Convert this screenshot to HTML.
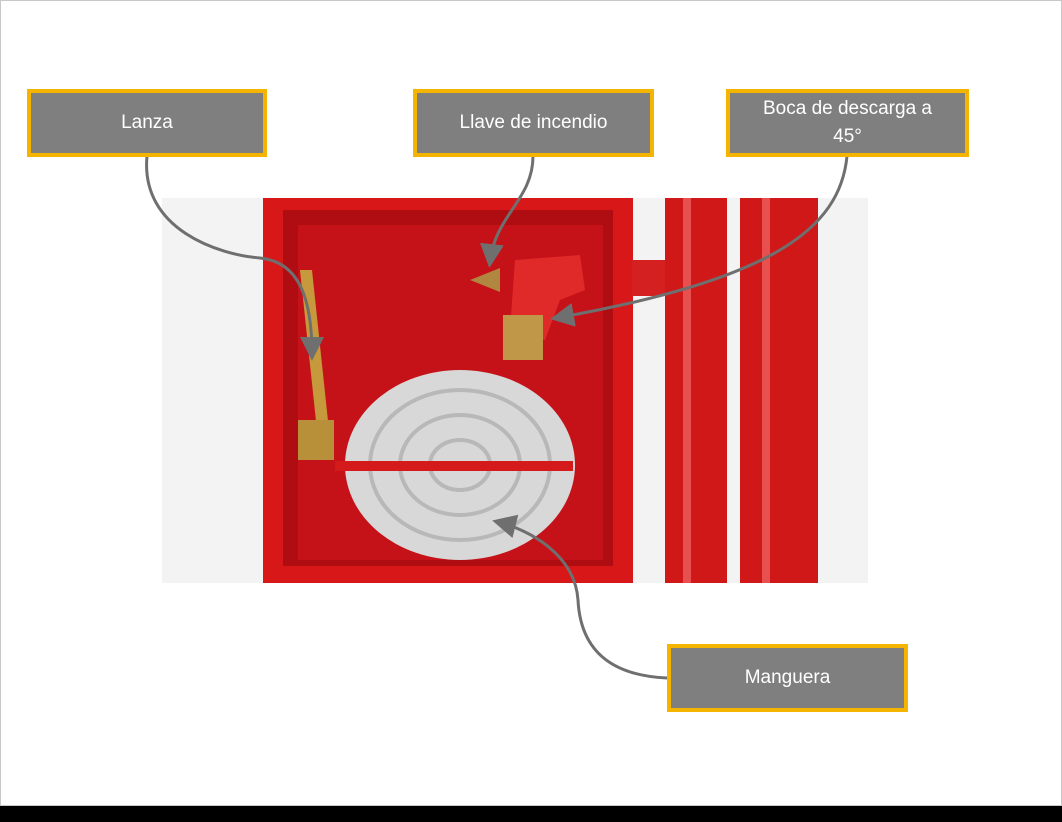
<!DOCTYPE html>
<html><head><meta charset="utf-8"><style>
html,body{margin:0;padding:0;width:1062px;height:822px;overflow:hidden;background:#000;}
#slide{position:absolute;left:0;top:0;width:1060px;height:804px;background:#fff;border:1px solid #c8c8c8;}
.lbl{position:absolute;box-sizing:border-box;background:#7f7f7f;border:4px solid #f5b400;color:#fff;font-family:"Liberation Sans",sans-serif;font-size:19px;display:flex;align-items:center;justify-content:center;text-align:center;line-height:24px;}
svg{position:absolute;left:0;top:0;}
</style></head><body>
<div id="slide"></div>
<svg width="1062" height="822">
<defs><marker id="ar" markerWidth="8" markerHeight="8" refX="6" refY="4" orient="auto"><path d="M0,0 L8,4 L0,8 z" fill="#6f6f6f"/></marker></defs>
<g>
<rect x="162" y="198" width="706" height="385" fill="#f3f3f3"/>
<rect x="263" y="198" width="370" height="385" fill="#d81818"/>
<rect x="283" y="210" width="330" height="356" fill="#b00d12"/>
<rect x="298" y="225" width="305" height="335" fill="#c41218"/>
<rect x="632" y="260" width="40" height="36" fill="#d42020"/>
<rect x="665" y="198" width="62" height="385" fill="#d01818"/>
<rect x="740" y="198" width="78" height="385" fill="#d01818"/>
<rect x="683" y="198" width="8" height="385" fill="#e85050"/>
<rect x="762" y="198" width="8" height="385" fill="#e85050"/>
<ellipse cx="460" cy="465" rx="115" ry="95" fill="#d8d8d8"/>
<ellipse cx="460" cy="465" rx="90" ry="75" fill="none" stroke="#b8b8b8" stroke-width="4"/>
<ellipse cx="460" cy="465" rx="60" ry="50" fill="none" stroke="#b8b8b8" stroke-width="4"/>
<ellipse cx="460" cy="465" rx="30" ry="25" fill="none" stroke="#b8b8b8" stroke-width="4"/>
<rect x="335" y="461" width="238" height="10" fill="#d41a1a"/>
<path d="M300,270 L318,440 L330,440 L312,270 z" fill="#c69a3c"/>
<rect x="298" y="420" width="36" height="40" fill="#b8903a"/>
<path d="M515,260 L580,255 L585,290 L560,300 L545,340 L510,330 z" fill="#e02a2a"/>
<rect x="503" y="315" width="40" height="45" fill="#c09648"/>
<path d="M470,280 L500,268 L500,292 z" fill="#b08640"/>
</g>
<g fill="none" stroke="#6f6f6f" stroke-width="3">
<path d="M147,156 C140,230 220,255 260,258 C300,262 312,300 312,355" marker-end="url(#ar)"/>
<path d="M533,156 C533,200 495,215 490,262" marker-end="url(#ar)"/>
<path d="M847,156 C840,230 770,280 556,318" marker-end="url(#ar)"/>
<path d="M667,678 C600,675 580,640 578,600 C575,555 530,530 498,522" marker-end="url(#ar)"/>
</g>
</svg>
<div class="lbl" style="left:27px;top:89px;width:240px;height:68px">Lanza</div>
<div class="lbl" style="left:413px;top:89px;width:241px;height:68px">Llave de incendio</div>
<div class="lbl" style="left:726px;top:89px;width:243px;height:68px;line-height:28px">Boca de descarga a<br>45°</div>
<div class="lbl" style="left:667px;top:644px;width:241px;height:68px">Manguera</div>
</body></html>
